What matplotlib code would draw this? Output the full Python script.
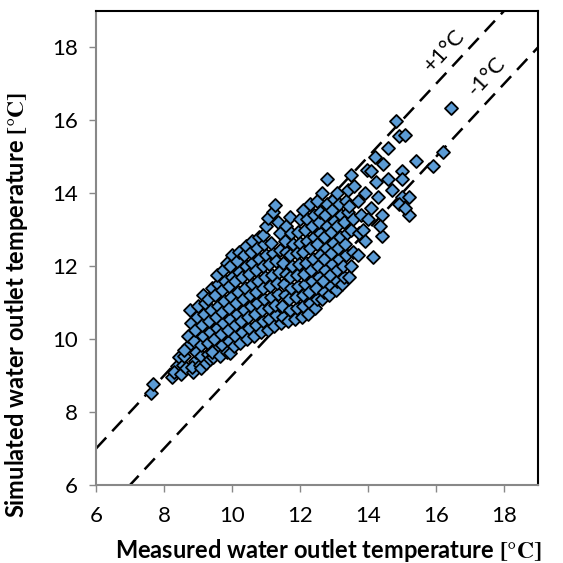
import matplotlib
matplotlib.use("Agg")
import matplotlib.pyplot as plt
import numpy as np

# Measured (x) vs simulated (y) water outlet temperature
points = [
    (7.62, 8.53), (7.68, 8.77), (8.24, 8.97), (8.38, 9.27), (8.30, 9.10), (8.45, 9.50),
    (8.50, 9.05), (8.55, 9.30), (8.60, 9.55), (8.65, 9.20), (8.70, 9.80), (8.72, 10.10), (8.76, 10.80), (8.80, 10.45), (8.58, 9.70),
    (8.85, 9.10), (8.90, 9.40), (8.95, 9.65), (8.88, 9.95), (8.92, 10.25), (8.98, 10.60), (9.00, 10.90), (8.82, 9.25),
    (9.05, 9.30), (9.10, 9.55), (9.08, 9.85), (9.15, 10.10), (9.12, 10.40), (9.18, 10.70), (9.15, 11.22), (9.20, 11.00), (9.10, 9.20),
    (9.25, 9.35), (9.30, 9.60), (9.28, 9.90), (9.35, 10.20), (9.32, 10.50), (9.38, 10.80), (9.30, 11.10), (9.40, 11.40), (9.36, 9.45),
    (9.45, 9.50), (9.50, 9.75), (9.48, 10.00), (9.55, 10.30), (9.52, 10.60), (9.58, 10.90), (9.50, 11.20), (9.60, 11.50), (9.55, 11.75), (9.42, 9.65),
    (9.65, 9.55), (9.70, 9.85), (9.68, 10.15), (9.75, 10.45), (9.72, 10.75), (9.78, 11.05), (9.70, 11.35), (9.80, 11.60), (9.75, 11.90), (9.85, 12.10),
    (9.85, 9.65), (9.90, 9.95), (9.88, 10.25), (9.95, 10.55), (9.92, 10.85), (9.98, 11.15), (9.90, 11.45), (10.00, 11.70), (9.95, 12.00), (10.00, 12.30), (9.94, 9.63),
    (10.05, 9.80), (10.10, 10.10), (10.08, 10.40), (10.15, 10.70), (10.12, 11.00), (10.18, 11.30), (10.10, 11.60), (10.20, 11.85), (10.15, 12.15), (10.20, 12.40),
    (10.25, 9.90), (10.30, 10.20), (10.28, 10.50), (10.35, 10.80), (10.32, 11.10), (10.38, 11.40), (10.30, 11.70), (10.40, 12.00), (10.35, 12.30), (10.40, 12.55),
    (10.45, 10.00), (10.50, 10.30), (10.48, 10.60), (10.55, 10.90), (10.52, 11.20), (10.58, 11.50), (10.50, 11.80), (10.60, 12.10), (10.55, 12.40), (10.60, 12.70),
    (10.65, 10.10), (10.70, 10.40), (10.68, 10.70), (10.75, 11.00), (10.72, 11.30), (10.78, 11.60), (10.70, 11.90), (10.80, 12.20), (10.75, 12.50), (10.80, 12.80),
    (10.85, 10.20), (10.90, 10.50), (10.88, 10.80), (10.95, 11.10), (10.92, 11.40), (10.98, 11.70), (10.90, 12.00), (11.00, 12.30), (10.95, 12.60), (10.90, 12.87), (11.00, 13.10),
    (11.05, 10.25), (11.10, 10.55), (11.08, 10.85), (11.15, 11.15), (11.12, 11.45), (11.18, 11.75), (11.10, 12.05), (11.20, 12.35), (11.15, 12.65), (11.06, 13.33), (11.20, 13.50),
    (11.25, 10.35), (11.30, 10.65), (11.28, 10.95), (11.35, 11.25), (11.32, 11.55), (11.38, 11.85), (11.30, 12.15), (11.40, 12.45), (11.26, 13.67), (11.35, 13.20), (11.40, 12.90),
    (11.45, 10.45), (11.50, 10.60), (11.48, 10.90), (11.55, 11.20), (11.52, 11.50), (11.58, 11.80), (11.50, 12.10), (11.60, 12.40), (11.55, 12.70), (11.60, 13.10),
    (11.65, 10.50), (11.70, 10.80), (11.68, 11.10), (11.75, 11.40), (11.72, 11.70), (11.78, 12.00), (11.70, 12.30), (11.80, 12.60), (11.70, 13.36), (11.75, 12.90),
    (11.85, 10.55), (11.90, 10.85), (11.88, 11.15), (11.95, 11.45), (11.92, 11.75), (11.98, 12.05), (11.90, 12.35), (12.00, 12.65), (11.95, 12.95), (12.00, 13.30),
    (12.05, 10.60), (12.10, 10.90), (12.08, 11.20), (12.15, 11.50), (12.12, 11.80), (12.18, 12.10), (12.10, 12.40), (12.20, 12.70), (12.15, 13.00), (12.20, 13.30), (12.10, 13.55),
    (12.25, 10.70), (12.30, 11.00), (12.28, 11.30), (12.35, 11.60), (12.32, 11.90), (12.38, 12.20), (12.30, 12.50), (12.40, 12.80), (12.35, 13.10), (12.40, 13.40), (12.30, 13.70),
    (12.45, 10.85), (12.50, 11.10), (12.48, 11.40), (12.55, 11.70), (12.52, 12.00), (12.58, 12.30), (12.50, 12.60), (12.60, 12.90), (12.55, 13.20), (12.60, 13.50), (12.50, 13.80),
    (12.65, 11.10), (12.70, 11.30), (12.68, 11.60), (12.75, 11.90), (12.72, 12.20), (12.78, 12.50), (12.70, 12.80), (12.80, 13.10), (12.75, 13.40), (12.80, 13.70), (12.80, 14.40), (12.65, 14.00),
    (12.85, 11.20), (12.90, 11.45), (12.88, 11.75), (12.95, 12.05), (12.92, 12.35), (12.98, 12.65), (12.90, 12.95), (13.00, 13.25), (12.95, 13.55), (13.00, 13.85),
    (13.05, 11.35), (13.10, 11.60), (13.08, 11.90), (13.15, 12.20), (13.12, 12.50), (13.18, 12.80), (13.10, 13.10), (13.20, 13.40), (13.15, 13.70), (13.10, 14.00),
    (13.25, 11.50), (13.30, 11.70), (13.28, 12.00), (13.35, 12.30), (13.32, 12.60), (13.38, 12.90), (13.30, 13.20), (13.40, 13.50), (13.35, 13.80), (13.40, 14.10),
    (13.45, 11.70), (13.50, 12.00), (13.55, 12.40), (13.50, 13.00), (13.55, 13.30), (13.50, 14.50), (13.60, 14.20), (13.45, 13.65),
    (13.70, 12.30), (13.75, 12.90), (13.80, 13.40), (13.85, 13.00), (13.97, 14.65), (13.90, 14.00), (13.70, 13.80), (14.00, 13.30), (13.90, 12.70),
    (14.15, 12.26), (14.40, 12.84), (14.20, 15.00), (14.45, 14.80), (14.10, 13.60), (14.30, 13.90), (14.25, 14.30), (14.40, 13.40), (14.10, 14.60), (14.35, 13.10),
    (14.60, 15.23), (14.82, 15.97), (14.90, 15.56), (15.10, 15.59), (15.00, 14.60), (15.00, 14.40), (15.20, 13.40), (15.00, 13.90), (15.20, 13.90),
    (14.70, 14.10), (14.90, 13.70), (15.10, 13.60), (14.60, 14.40),
    (15.40, 14.88), (15.90, 14.76), (16.20, 15.12), (16.44, 16.33),
]
measured = [p[0] for p in points]
simulated = [p[1] for p in points]

ticks = [6, 8, 10, 12, 14, 16, 18]
axis_min, axis_max = 6, 19
offsets = [1, -1]
offset_labels = ["+1°C", "-1°C"]

plt.rcParams['font.family'] = ['Lato', 'DejaVu Sans']
plt.rcParams['mathtext.fontset'] = 'stix'

fig = plt.figure(figsize=(5.63, 5.63), dpi=100)
ax = fig.add_axes([0.1705, 0.1385, 0.785, 0.842])

line_x = np.array([axis_min, axis_max])
for off in offsets:
    ax.plot(line_x, line_x + off, linestyle=(0, (6, 3.5)), color='black', lw=1.8, zorder=1)

ax.scatter(measured, simulated, marker='D', s=44, facecolor='#5B9BD5',
           edgecolor='black', linewidths=1.3, zorder=3)

ax.set_xlim(axis_min, axis_max)
ax.set_ylim(axis_min, axis_max)
ax.set_xticks(ticks)
ax.set_yticks(ticks)
ax.tick_params(axis='both', labelsize=16, color='#888888', length=5, width=1, direction='out')
ax.tick_params(axis='x', pad=10)
ax.tick_params(axis='y', pad=8)
for side in ['left', 'bottom']:
    ax.spines[side].set_color('#888888')
    ax.spines[side].set_linewidth(1.5)
for side in ['top', 'right']:
    ax.spines[side].set_color('black')
    ax.spines[side].set_linewidth(1.5)

ax.set_xlabel(r"Measured water outlet temperature $\mathbf{[°C]}$", fontsize=17,
              fontweight='bold')
ax.set_ylabel(r"Simulated water outlet temperature $\mathbf{[°C]}$", fontsize=17,
              fontweight='bold')
ax.xaxis.set_label_coords(0.525, -0.11)
ax.yaxis.set_label_coords(-0.15, 0.38)

ax.text(16.26, 17.92, offset_labels[0], rotation=47, fontsize=16, ha='center', va='center')
ax.text(17.5, 17.2, offset_labels[1], rotation=47, fontsize=16, ha='center', va='center')

fig.savefig("out.png", dpi=100)
